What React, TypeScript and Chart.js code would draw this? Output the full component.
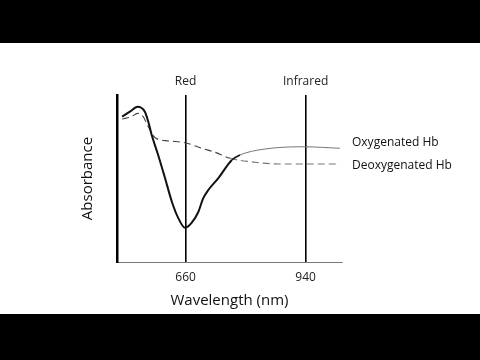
import React, { useEffect, useRef } from "react";
import { Chart, registerables } from "chart.js";

Chart.register(...registerables);

const oxyWavelength = [512, 530, 548, 565, 573, 581, 596, 612, 628, 643, 659, 674, 690, 701, 713, 736, 768, 787, 841, 934, 1020];
const oxyAbsorbance = [87.0, 90.0, 93.0, 90.0, 84.0, 76.0, 64.1, 50.3, 36.1, 26.3, 20.5, 23.4, 30.1, 38.1, 43.1, 50.1, 61.1, 64.1, 67.5, 69.0, 68.1];

const deoxyWavelength = [512, 534, 548, 561, 573, 589, 620, 659, 698, 729, 764, 810, 880, 1020];
const deoxyAbsorbance = [85.6, 87.0, 89.0, 87.0, 81.0, 74.4, 72.5, 71.4, 68.1, 65.7, 62.1, 60.1, 58.7, 58.7];

const bottomTicks = [660, 940];
const topTicks = [660, 940];
const topTickLabels = ["Red", "Infrared"];
const seriesLabels = ["Oxygenated Hb", "Deoxygenated Hb"];

const FONT = "'Open Sans', 'Noto Sans', sans-serif";

const decorPlugin = {
  id: "decor",
  beforeDraw(chart: any) {
    const ctx = chart.ctx;
    ctx.save();
    ctx.fillStyle = "#ffffff";
    ctx.fillRect(0, 0, chart.width, chart.height);
    ctx.fillStyle = "#000000";
    ctx.fillRect(0, 0, chart.width, 43);
    ctx.fillRect(0, 314, chart.width, chart.height - 314);
    ctx.restore();
  },
  afterDatasetsDraw(chart: any) {
    const ctx = chart.ctx;
    const area = chart.chartArea;
    const offsets = [-6, 2];
    ctx.save();
    ctx.font = `12px ${FONT}`;
    ctx.fillStyle = "#111";
    ctx.textBaseline = "middle";
    ctx.textAlign = "left";
    chart.data.datasets.forEach((ds: any, i: number) => {
      const meta = chart.getDatasetMeta(i);
      const last = meta.data[meta.data.length - 1];
      ctx.fillText(ds.label, area.right + 10, last.y + offsets[i]);
    });
    ctx.restore();
  },
};

export default function App() {
  const ref = useRef<HTMLCanvasElement | null>(null);
  useEffect(() => {
    if (!ref.current) return;
    const chart = new Chart(ref.current, {
      type: "line",
      data: {
        datasets: [
          {
            label: seriesLabels[0],
            data: oxyWavelength.map((w, i) => ({ x: w, y: oxyAbsorbance[i] })),
            borderColor: "#111",
            borderWidth: 2,
            pointRadius: 0,
            cubicInterpolationMode: "monotone",
            fill: false,
            segment: {
              borderColor: (c: any) => (c.p0.parsed.x >= 787 ? "#777" : undefined),
              borderWidth: (c: any) => (c.p0.parsed.x >= 787 ? 1 : c.p0.parsed.x >= 768 ? 1.5 : undefined),
            },
          },
          {
            label: seriesLabels[1],
            data: deoxyWavelength.map((w, i) => ({ x: w, y: deoxyAbsorbance[i] })),
            borderColor: "#444",
            borderWidth: 1.1,
            borderDash: [7, 4],
            pointRadius: 0,
            cubicInterpolationMode: "monotone",
            fill: false,
            segment: {
              borderColor: (c: any) => (c.p0.parsed.x >= 764 ? "#777" : undefined),
            },
          },
        ],
      },
      options: {
        responsive: false,
        animation: false,
        layout: { padding: { left: 77, right: 138, top: 65, bottom: 48 } },
        plugins: { legend: { display: false }, tooltip: { enabled: false } },
        scales: {
          x: {
            type: "linear",
            position: "bottom",
            min: 500,
            max: 1025,
            afterBuildTicks: (s: any) => {
              s.ticks = bottomTicks.map((v) => ({ value: v }));
            },
            afterFit: (s: any) => {
              s.height = 50;
            },
            grid: { display: true, color: "#000", lineWidth: 1.6, drawTicks: false },
            border: { display: true, color: "#777", width: 1 },
            ticks: { color: "#222", font: { family: FONT, size: 12 }, padding: 8, maxRotation: 0 },
            title: {
              display: true,
              text: "Wavelength (nm)",
              color: "#111",
              font: { family: FONT, size: 15 },
              padding: { top: 0, bottom: 2 },
            },
          },
          x2: {
            type: "linear",
            position: "top",
            min: 500,
            max: 1025,
            afterBuildTicks: (s: any) => {
              s.ticks = topTicks.map((v) => ({ value: v }));
            },
            afterFit: (s: any) => {
              s.height = 30;
            },
            grid: { display: false, drawTicks: false },
            border: { display: false },
            ticks: {
              color: "#222",
              font: { family: FONT, size: 12 },
              padding: 6,
              maxRotation: 0,
              callback: (v: any) => topTickLabels[topTicks.indexOf(Number(v))] ?? "",
            },
          },
          y: {
            type: "linear",
            min: 0,
            max: 100,
            afterFit: (s: any) => {
              s.width = 40;
            },
            grid: { display: false, drawTicks: false },
            border: { display: true, color: "#000", width: 2.5 },
            ticks: { display: false },
            title: {
              display: true,
              text: "Absorbance",
              color: "#111",
              font: { family: FONT, size: 15 },
              padding: { top: 2, bottom: 0 },
            },
          },
        },
      },
      plugins: [decorPlugin],
    });
    return () => chart.destroy();
  }, []);
  return (
    <div style={{ position: "absolute", left: 0, top: 0, width: 480, height: 360 }}>
      <canvas ref={ref} width={480} height={360} />
    </div>
  );
}
